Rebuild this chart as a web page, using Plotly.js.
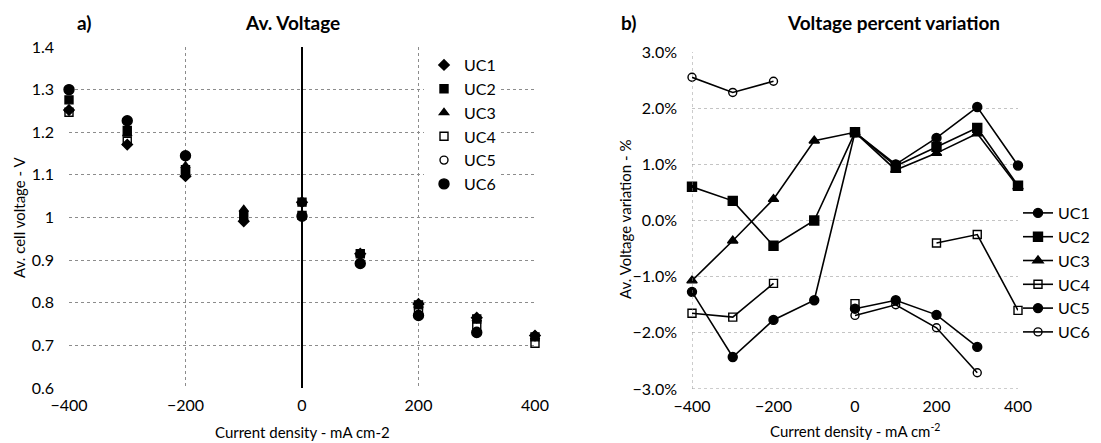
<!DOCTYPE html>
<html>
<head>
<meta charset="utf-8">
<script src="https://cdn.plot.ly/plotly-3.0.1.min.js"></script>
<style>
  html, body { margin: 0; padding: 0; background: #fff; }
  #chart { width: 1101px; height: 443px; }
</style>
</head>
<body>
<div id="chart"></div>
<script>
// Current density steps, mA cm-2
const currentDensity = [-400, -300, -200, -100, 0, 100, 200, 300, 400];
const cellNames = ['UC1', 'UC2', 'UC3', 'UC4', 'UC5', 'UC6'];

// a) average cell voltage, V (null = not measured)
const voltUC1 = [1.252, 1.171, 1.097, 0.991, 1.036, 0.915, 0.797, 0.765, 0.723];
const voltUC2 = [1.276, 1.204, 1.112, 1.005, 1.036, 0.915, 0.795, 0.762, 0.720];
const voltUC3 = [1.254, 1.196, 1.121, 1.019, 1.036, 0.914, 0.794, 0.762, 0.720];
const voltUC4 = [1.247, 1.179, 1.104, null, 1.005, null, 0.782, 0.748, 0.705];
const voltUC5 = [null, null, null, null, 1.004, 0.893, 0.772, 0.733, null];
const voltUC6 = [1.300, 1.227, 1.145, null, 1.003, 0.892, 0.770, 0.730, null];

// b) voltage percent variation, %
const varUC1 = [-1.27, -2.43, -1.77, -1.42, 1.57, 1.00, 1.47, 2.02, 0.98];
const varUC2 = [0.60, 0.35, -0.45, 0.00, 1.57, 0.97, 1.31, 1.65, 0.62];
const varUC3 = [-1.07, -0.36, 0.38, 1.42, 1.57, 0.90, 1.20, 1.55, 0.60];
const varUC4 = [-1.65, -1.72, -1.12, null, -1.48, null, -0.40, -0.25, -1.60];
const varUC5 = [null, null, null, null, -1.57, -1.42, -1.68, -2.25, null];
const varUC6 = [2.55, 2.28, 2.48, null, -1.69, -1.50, -1.91, -2.71, null];

const voltSeries = [voltUC1, voltUC2, voltUC3, voltUC4, voltUC5, voltUC6];
const varSeries = [varUC1, varUC2, varUC3, varUC4, varUC5, varUC6];

const voltSymbols = ['diamond', 'square', 'triangle-up', 'square-open', 'circle-open', 'circle'];
const voltSizes = [8, 8, 8, 8, 8, 10];
const varSymbols = ['circle', 'square', 'triangle-up', 'square-open', 'circle', 'circle-open'];
const varSizes = [9, 9, 9, 8, 9, 8];

const FONT = 'Lato, "Liberation Sans", sans-serif';
const W = 1101, H = 443;
const px = v => v / W;
const py = v => 1 - v / H;

const traces = [];
cellNames.forEach((name, i) => {
  traces.push({
    type: 'scatter', mode: 'markers', name: name,
    x: currentDensity, y: voltSeries[i],
    xaxis: 'x', yaxis: 'y', legend: 'legend',
    cliponaxis: false,
    marker: { symbol: voltSymbols[i], size: voltSizes[i], color: '#000',
              line: { color: '#000', width: 1.4 } }
  });
});
cellNames.forEach((name, i) => {
  traces.push({
    type: 'scatter', mode: 'lines+markers', name: name,
    x: currentDensity, y: varSeries[i],
    xaxis: 'x2', yaxis: 'y2', legend: 'legend2',
    connectgaps: false, cliponaxis: false,
    line: { color: '#000', width: 1.6 },
    marker: { symbol: varSymbols[i], size: varSizes[i], color: '#000',
              line: { color: '#000', width: 1.4 } }
  });
});

const grid = { showgrid: true, gridcolor: '#8c8c8c', griddash: 'dot', gridwidth: 1 };
const tickFont = { size: 16, family: FONT };

function label(text, x, y, size, extra) {
  return Object.assign({
    text: text, xref: 'paper', yref: 'paper', x: px(x), y: py(y),
    xanchor: 'center', yanchor: 'middle', showarrow: false,
    font: { size: size, family: FONT, color: '#000' }
  }, extra || {});
}

const layout = {
  width: W, height: H,
  margin: { l: 0, r: 0, t: 0, b: 0 },
  paper_bgcolor: '#fff', plot_bgcolor: '#fff',
  font: { family: FONT, size: 16, color: '#000' },
  showlegend: true,
  xaxis: Object.assign({}, grid, {
    domain: [px(69), px(535)], anchor: 'y',
    range: [-400, 400], tickvals: [-400, -200, 0, 200, 400],
    ticks: '', showline: false, ticklabelstandoff: 6,
    zeroline: true, zerolinecolor: '#000', zerolinewidth: 2,
    tickfont: tickFont
  }),
  yaxis: Object.assign({}, grid, {
    domain: [1 - 388 / H, 1 - 47 / H], anchor: 'x',
    range: [0.6, 1.4],
    tickvals: [0.6, 0.7, 0.8, 0.9, 1, 1.1, 1.2, 1.3, 1.4],
    ticktext: ['0.6', '0.7', '0.8', '0.9', '1', '1.1', '1.2', '1.3', '1.4'],
    ticks: '', zeroline: false, showline: false, ticklabelstandoff: 14,
    tickfont: tickFont
  }),
  xaxis2: {
    showgrid: false,
    domain: [px(692), px(1018)], anchor: 'y2',
    range: [-400, 400], tickvals: [-400, -200, 0, 200, 400],
    ticks: '', zeroline: false, showline: false, ticklabelstandoff: 6,
    tickfont: tickFont
  },
  yaxis2: Object.assign({}, grid, {
    gridcolor: '#c4c4c4',
    domain: [1 - 389 / H, 1 - 52 / H], anchor: 'x2',
    range: [-3, 3], dtick: 1, tickformat: '.1f', ticksuffix: '%',
    ticks: '', zeroline: false, showline: false, ticklabelstandoff: 14,
    tickfont: tickFont
  }),
  legend: {
    x: px(424), y: py(48), xanchor: 'left', yanchor: 'top',
    bgcolor: '#fff', borderwidth: 0,
    font: { size: 16, family: FONT }, itemwidth: 30, tracegroupgap: 0
  },
  legend2: {
    x: px(1018), y: py(196), xanchor: 'left', yanchor: 'top',
    bgcolor: 'rgba(0,0,0,0)', borderwidth: 0,
    font: { size: 16, family: FONT }, itemwidth: 30, tracegroupgap: 0
  },
  shapes: [
    // dotted frame of the second plot: left edge and baseline
    { type: 'line', xref: 'x2', yref: 'y2', x0: -400, x1: -400, y0: -3, y1: 3,
      line: { color: '#9a9a9a', width: 1, dash: 'dot' } },
    { type: 'line', xref: 'x2', yref: 'y2', x0: -400, x1: 400, y0: -3, y1: -3,
      line: { color: '#9a9a9a', width: 1, dash: 'dot' } }
  ],
  annotations: [
    label('<b>a)</b>', 84, 22, 19),
    label('<b>Av. Voltage</b>', 292, 22, 19),
    label('<b>b)</b>', 628, 22, 19),
    label('<b>Voltage percent variation</b>', 893, 22, 19),
    label('Av. cell voltage - V', 19, 218, 15, { textangle: -90 }),
    label('Current density - mA cm-2', 302, 432, 15),
    label('Av. Voltage variation - %', 625, 220, 15, { textangle: -90 }),
    label('Current density - mA cm<sup>-2</sup>', 855, 430, 15)
  ]
};

Plotly.newPlot('chart', traces, layout, { staticPlot: true, displayModeBar: false });
</script>
</body>
</html>
